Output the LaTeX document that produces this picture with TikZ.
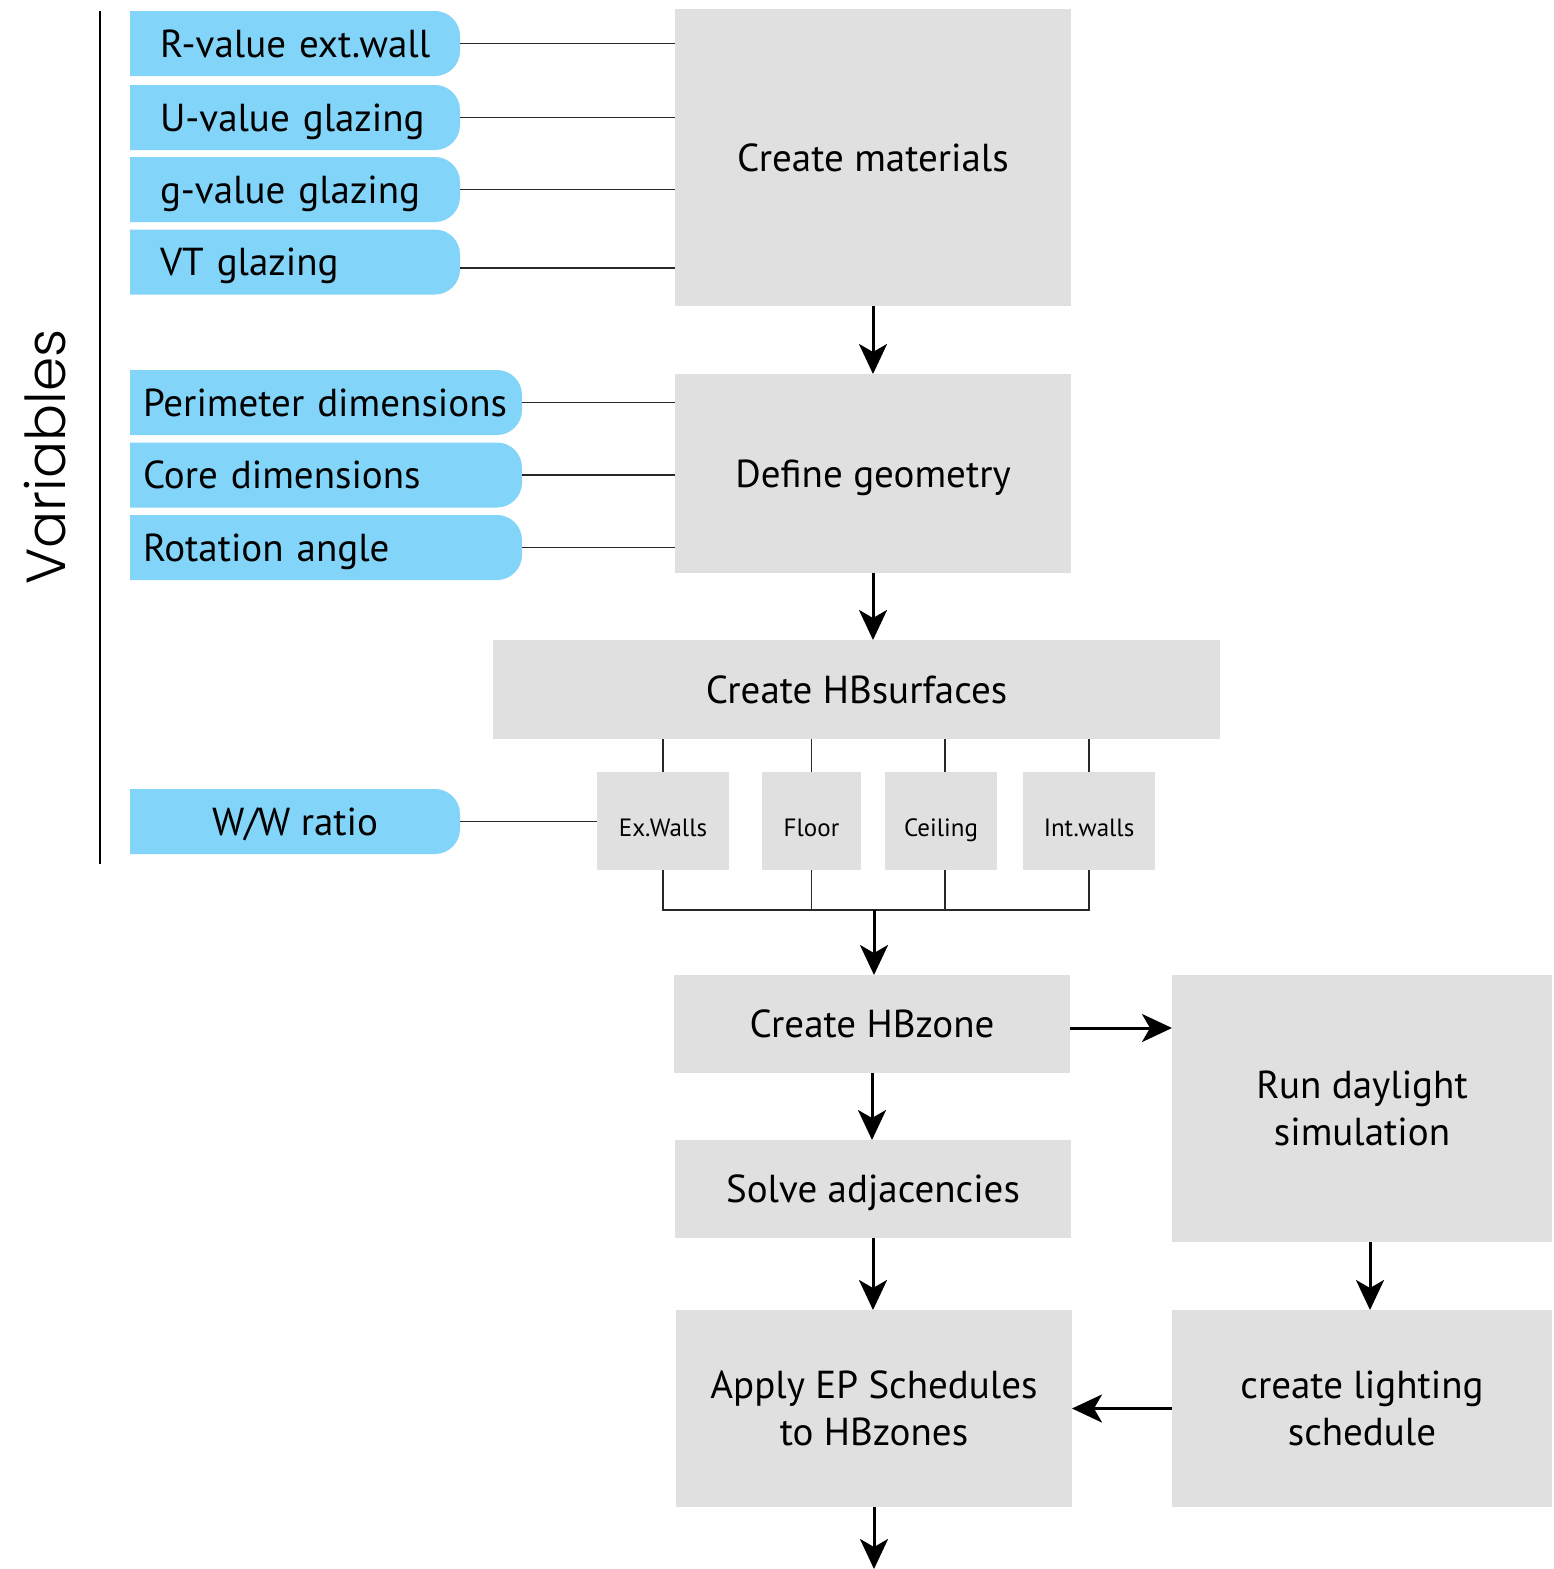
\documentclass[tikz,border=0pt]{standalone}
\usepackage{fontspec}
\setmainfont{PT Sans}
\newfontfamily\varfont{Poppins}[UprightFont={* Light}]
\usetikzlibrary{arrows.meta}
\definecolor{varblue}{RGB}{130,212,248}
\definecolor{stepgrey}{RGB}{224,224,224}
\definecolor{wire}{RGB}{40,40,40}

\begin{document}
\begin{tikzpicture}[x=0.5pt,y=-0.5pt,
  every node/.style={inner sep=0pt, outer sep=0pt},
  stepbox/.style={fill=stepgrey, draw=none, align=center,
    font=\fontsize{19.5}{23.5}\selectfont},
  oneline/.style={text height=13.65pt, text depth=0pt},
  partbox/.style={fill=stepgrey, draw=none, minimum height=49pt,
    font=\fontsize{12.5}{15}\selectfont, text height=15.75pt, text depth=0pt},
  varbox/.style={minimum height=32.5pt, text height=13.65pt, text depth=0pt,
    font=\fontsize{19.5}{23.5}\selectfont,
    path picture={\fill[varblue, rounded corners=12.5pt]
      ([xshift=-30pt]path picture bounding box.south west) rectangle
      (path picture bounding box.north east);}},
  link/.style={draw=wire, line width=0.65pt},
  flow/.style={line width=1.5pt, -{Stealth[length=15pt,width=14pt,inset=4pt]}},
]
\path[use as bounding box] (0,0) rectangle (1553,1569);

% left-hand label and bracket line
\coordinate (vtop) at (100,11);
\coordinate (vbot) at (100,864);
\draw[line width=1pt] (vtop) -- (vbot);
\node[rotate=90, font=\varfont\fontsize{27.5}{30}\selectfont] (vars) at (45,457) {Variables};

% process steps
\node[stepbox, oneline, minimum width=198pt, minimum height=148.5pt] (mat) at (873,157.5) {Create materials};
\node[stepbox, oneline, minimum width=198pt, minimum height=99.5pt] (geo) at (873,473.5) {Define geometry};
\node[stepbox, oneline, minimum width=363.5pt, minimum height=49.5pt] (surf) at (856.5,689.5) {Create HBsurfaces};
\node[stepbox, oneline, minimum width=198pt, minimum height=49pt] (zone) at (872,1024) {Create HBzone};
\node[stepbox, oneline, minimum width=198pt, minimum height=49pt] (adj) at (873,1189) {Solve adjacencies};
\node[stepbox, minimum width=198pt, minimum height=98.5pt] (sched) at (874,1408.5) {Apply EP Schedules\\to HBzones};
\node[stepbox, minimum width=190pt, minimum height=133.5pt] (day) at (1362,1108.5) {Run daylight\\simulation};
\node[stepbox, minimum width=190pt, minimum height=98.5pt] (light) at (1362,1408.5) {create lighting\\schedule};

% surface types
\node[partbox, minimum width=66pt] (exw) at (663,821) {Ex.Walls};
\node[partbox, minimum width=49.5pt] (flo) at (811.5,821) {Floor};
\node[partbox, minimum width=56pt] (cei) at (941,821) {Ceiling};
\node[partbox, minimum width=66pt] (intw) at (1089,821) {Int.walls};

% input variables
\node[varbox, minimum width=165pt, text width=135pt, inner xsep=15pt, align=left] (rv) at (295,43.5) {R-value ext.wall};
\node[varbox, minimum width=165pt, text width=135pt, inner xsep=15pt, align=left] (uv) at (295,117.5) {U-value glazing};
\node[varbox, minimum width=165pt, text width=135pt, inner xsep=15pt, align=left] (gv) at (295,189.5) {g-value glazing};
\node[varbox, minimum width=165pt, text width=135pt, inner xsep=15pt, align=left] (vt) at (295,262) {VT glazing};
\node[varbox, minimum width=196pt, text width=183pt, inner xsep=6.5pt, align=left] (per) at (326,402.5) {Perimeter dimensions};
\node[varbox, minimum width=196pt, text width=183pt, inner xsep=6.5pt, align=left] (core) at (326,475) {Core dimensions};
\node[varbox, minimum width=196pt, text width=183pt, inner xsep=6.5pt, align=left] (rot) at (326,547.5) {Rotation angle};
\node[varbox, minimum width=165pt, align=center] (ww) at (295,821.5) {W/W ratio};

% variable links
\draw[link] (rv.east) -- (rv.east -| mat.west);
\draw[link] (uv.east) -- (uv.east -| mat.west);
\draw[link] (gv.east) -- (gv.east -| mat.west);
\draw[link] ([yshift=-3pt]vt.east) -- ([yshift=-3pt]vt.east -| mat.west);
\draw[link] (per.east) -- (per.east -| geo.west);
\draw[link] (core.east) -- (core.east -| geo.west);
\draw[link] (rot.east) -- (rot.east -| geo.west);
\draw[link] (ww.east) -- (ww.east -| exw.west);

% surfaces split and merge
\draw[link] (exw.north) -- (exw.north |- surf.south);
\draw[link] (flo.north) -- (flo.north |- surf.south);
\draw[link] ([xshift=2pt]cei.north) -- ([xshift=2pt]cei.north |- surf.south);
\draw[link] (intw.north) -- (intw.north |- surf.south);
\coordinate (bus) at (874,910);
\draw[link] (exw.south) -- (exw.south |- bus) -- (intw.south |- bus) -- (intw.south);
\draw[link] (flo.south) -- (flo.south |- bus);
\draw[link] ([xshift=2pt]cei.south) -- ([xshift=2pt]cei.south |- bus);

% flow arrows
\draw[flow] (mat.south) -- (mat.south |- geo.north);
\draw[flow] (geo.south) -- (geo.south |- surf.north);
\draw[flow] (bus) -- (bus |- zone.north);
\draw[flow] (zone.south) -- (zone.south |- adj.north);
\draw[flow] (adj.south) -- (adj.south |- sched.north);
\draw[flow] ([yshift=-2pt]zone.east) -- ([yshift=-2pt]zone.east -| day.west);
\draw[flow] ([xshift=4pt]day.south) -- ([xshift=4pt]light.north);
\draw[flow] (light.west) -- (light.west -| sched.east);
\coordinate (out) at (874,1569);
\draw[flow] (sched.south) -- (sched.south |- out);
\end{tikzpicture}
\end{document}
